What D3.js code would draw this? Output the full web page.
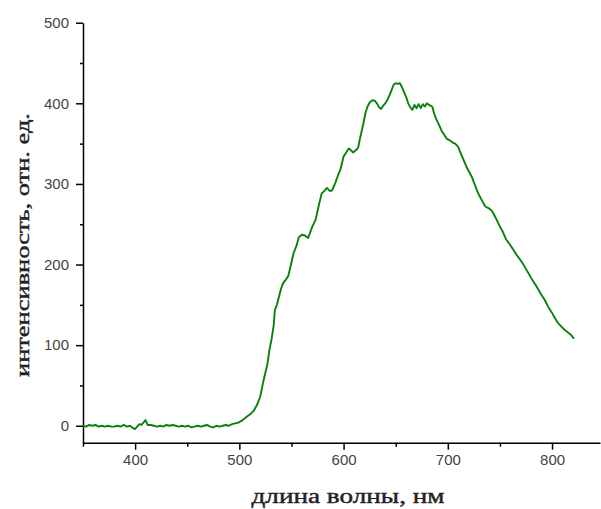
<!DOCTYPE html>
<html>
<head>
<meta charset="utf-8">
<script src="https://cdn.jsdelivr.net/npm/d3@7"></script>
<style>
  body { margin: 0; background: #fff; }
  .tick text { font-family: "Liberation Sans", Arial, sans-serif; font-size: 15px; fill: #444; }
</style>
</head>
<body>
<div id="chart"></div>
<script>
// Size of the picture
const w = 601;
const h = 509;

// Wavelength (nm) and intensity (arb. units)
const wavelength = [350, 353, 356, 359, 362, 365, 368, 371, 374, 377, 380, 383, 386, 389, 392, 395, 398, 400, 402, 404, 406, 408, 410, 412, 415, 418, 421, 424, 427, 430, 433, 436, 439, 442, 445, 448, 451, 454, 457, 460, 463, 466, 469, 472, 475, 478, 481, 484, 487, 490, 493, 496, 499, 502, 505, 508, 511, 514, 517, 520, 523, 525, 527, 529, 531, 533, 534, 536, 538, 540, 542, 545, 547, 549, 552, 555, 557, 560, 563, 566, 568, 570, 573, 575, 577, 579, 582, 584, 587, 589, 592, 595, 597, 600, 603, 605, 607, 609, 612, 614, 616, 619, 621, 623, 625, 628, 630, 632, 634, 636, 638, 640, 642, 645, 648, 650, 652, 654, 656, 658, 660, 662, 664, 666, 668, 670, 672, 674, 676, 678, 680, 682, 685, 687, 689, 692, 694, 697, 699, 702, 705, 707, 710, 712, 715, 718, 720, 723, 725, 728, 730, 733, 736, 739, 742, 744, 747, 750, 753, 756, 760, 763, 766, 770, 773, 777, 781, 785, 789, 793, 797, 800, 803, 806, 809, 812, 815, 818, 821];
const intensity = [0, -1, 1, 0, 1, -1, 0, -1, 0, -1, -1, 0, -1, 1, -1, 0, -3, -4, -1, 2, 1, 4, 7, 1, 1, 0, -1, 0, -1, 1, 0, 1, 0, -1, 0, -1, 0, -2, -1, 0, -1, 0, 1, -1, -2, 0, -1, 0, 1, 0, 2, 3, 4, 6, 9, 12, 15, 19, 26, 36, 55, 66, 77, 95, 108, 125, 143, 150, 160, 170, 177, 182, 186, 197, 214, 224, 234, 237, 236, 233, 240, 247, 255, 266, 278, 288, 292, 295, 291, 292, 301, 312, 318, 334, 340, 344, 342, 339, 342, 345, 358, 375, 388, 396, 401, 404, 403, 400, 395, 393, 397, 400, 404, 413, 423, 425, 424, 425, 420, 414, 408, 400, 395, 392, 398, 394, 399, 394, 399, 396, 400, 398, 396, 387, 380, 372, 366, 360, 356, 354, 351, 350, 346, 339, 330, 321, 316, 309, 302, 292, 286, 279, 272, 270, 267, 263, 255, 247, 240, 231, 224, 218, 212, 205, 199, 190, 181, 173, 164, 156, 146, 140, 133, 127, 123, 119, 116, 113, 108];

// Tick values
const xTicks = [400, 500, 600, 700, 800];
const xMinor = [350, 450, 550, 650, 750];
const yTicks = [0, 100, 200, 300, 400, 500];
const yMinor = [50, 150, 250, 350, 450];

const data = wavelength.map((d, i) => ({ x: d, y: intensity[i] }));

const svg = d3.select("#chart")
  .append("svg")
  .attr("width", w)
  .attr("height", h);

// Scales
const xScale = d3.scaleLinear()
  .domain([350, 846])
  .range([83, 600]);

const yScale = d3.scaleLinear()
  .domain([-21, 500])
  .range([442.7, 22.7]);

// Minor ticks first, so the main axes sit on top
svg.append("g")
  .attr("transform", "translate(0,442.7)")
  .call(d3.axisBottom(xScale).tickValues(xMinor).tickSize(4).tickSizeOuter(0).tickFormat(""))
  .call(g => g.select(".domain").remove());

svg.append("g")
  .attr("transform", "translate(83,0)")
  .call(d3.axisLeft(yScale).tickValues(yMinor).tickSize(3).tickSizeOuter(0).tickFormat(""))
  .call(g => g.select(".domain").remove());

// Main axes
svg.append("g")
  .attr("transform", "translate(0,442.7)")
  .call(d3.axisBottom(xScale).tickValues(xTicks).tickSize(7).tickSizeOuter(0).tickPadding(5));

svg.append("g")
  .attr("transform", "translate(83,0)")
  .call(d3.axisLeft(yScale).tickValues(yTicks).tickSize(7).tickSizeOuter(0).tickPadding(7));

svg.selectAll(".domain, .tick line")
  .attr("stroke", "#000")
  .attr("stroke-width", 1.5);

// The spectrum
const line = d3.line()
  .x(d => xScale(d.x))
  .y(d => yScale(d.y));

svg.append("path")
  .datum(data)
  .attr("d", line)
  .attr("fill", "none")
  .attr("stroke", "#0a800a")
  .attr("stroke-width", 1.9)
  .attr("stroke-linejoin", "round");

// Axis titles
svg.append("text")
  .text("длина волны, нм")
  .attr("x", 348)
  .attr("y", 503)
  .attr("text-anchor", "middle")
  .attr("font-family", "Liberation Serif, serif")
  .attr("font-size", "20px")
  .attr("fill", "#222")
  .attr("stroke", "#222")
  .attr("stroke-width", 0.4)
  .attr("textLength", 193)
  .attr("lengthAdjust", "spacingAndGlyphs");

svg.append("text")
  .text("интенсивность, отн. ед.")
  .attr("transform", "translate(29,245) rotate(-90)")
  .attr("text-anchor", "middle")
  .attr("font-family", "Liberation Serif, serif")
  .attr("font-size", "19px")
  .attr("fill", "#222")
  .attr("stroke", "#222")
  .attr("stroke-width", 0.4)
  .attr("textLength", 264)
  .attr("lengthAdjust", "spacingAndGlyphs");
</script>
</body>
</html>
